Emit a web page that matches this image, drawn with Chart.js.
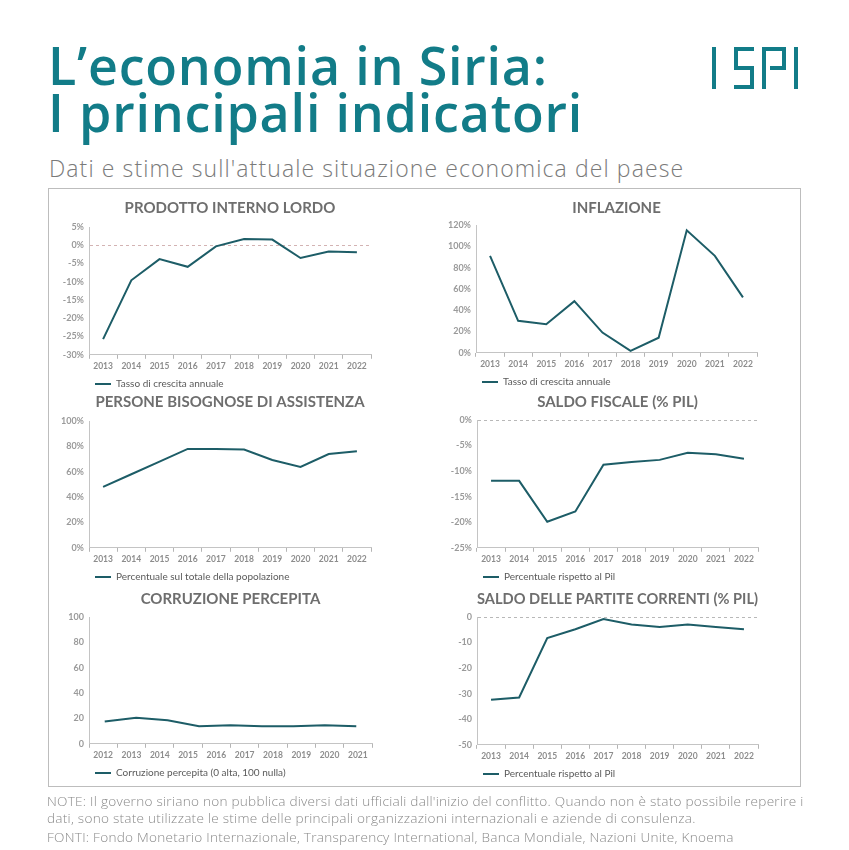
<!DOCTYPE html>
<html lang="it">
<head>
    <meta charset="UTF-8">
    <title>L'economia in Siria</title>
    <script src="https://cdn.jsdelivr.net/npm/chart.js"></script>
    <style>
        body {
            margin: 0;
            padding: 0;
            background: #fff;
            font-family: 'Lato', 'Open Sans', sans-serif;
        }

        #page {
            position: relative;
            width: 849px;
            height: 850px;
            overflow: hidden;
        }

        /* Header */
        .title {
            position: absolute;
            left: 48px;
            top: 41px;
            margin: 0;
            font-family: 'Open Sans', sans-serif;
            font-size: 52px;
            line-height: 47px;
            font-weight: 600;
            letter-spacing: 0.8px;
            color: #127c88;
        }

        .subtitle {
            position: absolute;
            left: 49px;
            top: 153px;
            font-family: 'Open Sans', sans-serif;
            font-size: 23px;
            line-height: 31px;
            font-weight: 300;
            letter-spacing: 1.1px;
            color: #7a7a7a;
            white-space: nowrap;
        }

        .logo {
            position: absolute;
            left: 707px;
            top: 45px;
        }

        /* Frame round the six charts */
        .frame {
            position: absolute;
            left: 48px;
            top: 188px;
            width: 751px;
            height: 597px;
            border: 1px solid #bdbdbd;
        }

        canvas {
            position: absolute;
        }

        .notes {
            position: absolute;
            left: 47px;
            top: 792px;
            font-family: 'Open Sans', sans-serif;
            font-size: 13.6px;
            line-height: 17px;
            font-weight: 300;
            letter-spacing: 0.25px;
            color: #8a8a8a;
            white-space: nowrap;
        }
        .notes p { margin: 0 0 2px 0; }
    </style>
</head>
<body>
<div id="page">
    <h1 class="title">L’economia in Siria:<br>I principali indicatori</h1>
    <svg class="logo" width="95" height="48" viewBox="0 0 95 48">
        <g fill="none" stroke="#127c88" stroke-width="4">
            <path d="M7 2 V44"/>
            <path d="M47 4 H29 V23 H45 V42 H27"/>
            <path d="M57 44 V4 H77 V23 H63"/>
            <path d="M89 2 V44"/>
        </g>
    </svg>
    <div class="subtitle">Dati e stime sull'attuale situazione economica del paese</div>
    <div class="frame"></div>

    <canvas id="gdpChart" width="341" height="204" style="left:40px;top:195px"></canvas>
    <canvas id="inflChart" width="342" height="202" style="left:425px;top:195px"></canvas>
    <canvas id="needChart" width="341" height="203" style="left:40px;top:389px"></canvas>
    <canvas id="fiscalChart" width="343" height="203" style="left:425px;top:389px"></canvas>
    <canvas id="corrChart" width="342" height="202" style="left:40px;top:586px"></canvas>
    <canvas id="caChart" width="343" height="203" style="left:425px;top:586px"></canvas>

    <div class="notes">
        <p>NOTE: Il governo siriano non pubblica diversi dati ufficiali dall'inizio del conflitto. Quando non è stato possibile reperire i<br>dati, sono state utilizzate le stime delle principali organizzazioni internazionali e aziende di consulenza.</p>
        <p>FONTI: Fondo Monetario Internazionale, Transparency International, Banca Mondiale, Nazioni Unite, Knoema</p>
    </div>
</div>

<script>
    // Categories
    const years = ["2013", "2014", "2015", "2016", "2017", "2018", "2019", "2020", "2021", "2022"];
    const corrYears = ["2012", "2013", "2014", "2015", "2016", "2017", "2018", "2019", "2020", "2021"];
    // the corruption line has only 9 points, spread evenly under the 10 labels
    const corrPointYears = ["2013", "2014", "2015", "2016", "2017", "2018", "2019", "2020", "2021"];

    // Series
    const gdpGrowth = [-25.7, -9.6, -3.8, -5.9, -0.3, 1.7, 1.55, -3.5, -1.7, -1.9];
    const inflation = [91, 30, 26.8, 48.5, 19, 1.8, 14.2, 115, 91, 52];
    const peopleInNeed = [48, 58, 68, 78, 78, 77.5, 69.3, 63.8, 74, 76.2];
    const fiscalBalance = [-11.9, -11.9, -19.9, -17.9, -8.75, -8.2, -7.8, -6.4, -6.7, -7.6];
    const corruption = [17.6, 20.6, 18.5, 13.8, 14.7, 13.8, 13.8, 14.6, 13.8];
    const currentAccount = [-32.4, -31.5, -8.2, -4.8, -0.8, -2.9, -3.9, -2.9, -3.9, -4.8];

    const LINE = "#1d5d67";
    const FONT = "'Lato', 'Open Sans', sans-serif";

    function makeChart(id, cfg) {
        const pct = cfg.pct ? "%" : "";
        const scales = {
            x: {
                type: "category",
                labels: cfg.labels,
                offset: true,
                grid: {
                    display: true,
                    offset: true,
                    drawOnChartArea: false,
                    drawTicks: true,
                    tickLength: 4,
                    tickColor: "#b5b5b5"
                },
                border: { display: true, color: "#c4c4c4", width: 1 },
                ticks: {
                    color: "#8d8d8d",
                    padding: 2,
                    maxRotation: 0,
                    autoSkip: false,
                    font: { family: FONT, size: 8.5, weight: "bold" }
                }
            },
            y: {
                min: cfg.min,
                max: cfg.max,
                afterFit: (scale) => { scale.width = cfg.yWidth; },
                grid: {
                    display: true,
                    drawTicks: false,
                    color: (ctx) => (ctx.tick && ctx.tick.value === 0 && cfg.zeroLine) ? cfg.zeroLine : "rgba(0,0,0,0)"
                },
                border: { display: true, color: "#c4c4c4", width: 1, dash: [3, 3] },
                ticks: {
                    stepSize: cfg.step,
                    color: "#9a9a9a",
                    padding: 5,
                    font: { family: FONT, size: 9, weight: "bold" },
                    callback: (v) => v + pct
                }
            }
        };
        let xAxisID = "x";
        if (cfg.pointLabels) {
            // hidden axis that carries the data points
            scales.xData = {
                type: "category",
                labels: cfg.pointLabels,
                offset: true,
                display: false
            };
            xAxisID = "xData";
        }

        return new Chart(document.getElementById(id), {
            type: "line",
            data: {
                datasets: [{
                    label: cfg.legend,
                    data: cfg.data,
                    xAxisID: xAxisID,
                    borderColor: LINE,
                    backgroundColor: LINE,
                    borderWidth: 2,
                    pointRadius: 0,
                    tension: 0,
                    fill: false
                }]
            },
            options: {
                responsive: false,
                animation: false,
                layout: { padding: { left: 0, right: 10, top: 0, bottom: 0 } },
                plugins: {
                    title: {
                        display: true,
                        text: cfg.title,
                        fullSize: false,
                        color: "#6e6e6e",
                        font: { family: FONT, size: 15, weight: "bold" },
                        padding: { top: 4, bottom: cfg.titleGap }
                    },
                    legend: {
                        display: true,
                        position: "bottom",
                        align: "start",
                        fullSize: false,
                        labels: {
                            usePointStyle: true,
                            pointStyle: "line",
                            pointStyleWidth: 16,
                            padding: 6,
                            color: "#5a5a5a",
                            font: { family: FONT, size: 10 }
                        }
                    },
                    tooltip: { enabled: false }
                },
                scales: scales
            }
        });
    }

    makeChart("gdpChart", {
        title: "PRODOTTO INTERNO LORDO", legend: "Tasso di crescita annuale",
        labels: years, data: gdpGrowth, min: -30, max: 5, step: 5, pct: true,
        yWidth: 49, titleGap: 10, zeroLine: "#d3b3b3"
    });
    makeChart("inflChart", {
        title: "INFLAZIONE", legend: "Tasso di crescita annuale",
        labels: years, data: inflation, min: 0, max: 120, step: 20, pct: true,
        yWidth: 51, titleGap: 8
    });
    makeChart("needChart", {
        title: "PERSONE BISOGNOSE DI ASSISTENZA", legend: "Percentuale sul totale della popolazione",
        labels: years, data: peopleInNeed, min: 0, max: 100, step: 20, pct: true,
        yWidth: 49, titleGap: 10
    });
    makeChart("fiscalChart", {
        title: "SALDO FISCALE (% PIL)", legend: "Percentuale rispetto al Pil",
        labels: years, data: fiscalBalance, min: -25, max: 0, step: 5, pct: true,
        yWidth: 52, titleGap: 9, zeroLine: "#b8b8b8"
    });
    makeChart("corrChart", {
        title: "CORRUZIONE PERCEPITA", legend: "Corruzione percepita (0 alta, 100 nulla)",
        labels: corrYears, pointLabels: corrPointYears, data: corruption,
        min: 0, max: 100, step: 20, pct: false, yWidth: 49, titleGap: 9
    });
    makeChart("caChart", {
        title: "SALDO DELLE PARTITE CORRENTI (% PIL)", legend: "Percentuale rispetto al Pil",
        labels: years, data: currentAccount, min: -50, max: 0, step: 10, pct: false,
        yWidth: 52, titleGap: 9, zeroLine: "#b8b8b8"
    });
</script>
</body>
</html>
